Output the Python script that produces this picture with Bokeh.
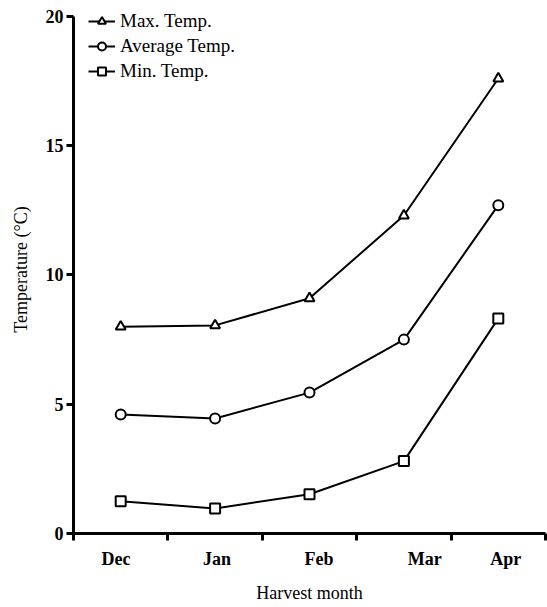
from bokeh.plotting import figure
from bokeh.models import FixedTicker, Legend, LegendItem
from bokeh.embed import file_html
from bokeh.resources import INLINE

months = ["Dec", "Jan", "Feb", "Mar", "Apr"]
max_temp = [8.0, 8.05, 9.1, 12.3, 17.6]
avg_temp = [4.6, 4.45, 5.45, 7.5, 12.7]
min_temp = [1.25, 0.97, 1.52, 2.8, 8.32]
y_ticks = [0, 5, 10, 15, 20]

xpos = [i + 0.5 for i in range(len(months))]
# where the month names sit under the axis (as in the original figure)
label_x = [0.45, 1.52, 2.6, 3.72, 4.58]
FONT = "Liberation Serif"

# a little headroom above 20 so the legend is not clipped; the axis line stops at 20
p = figure(width=547, height=607, x_range=(0, 5), y_range=(0, 20.425),
           output_backend="svg", toolbar_location=None,
           min_border_left=73, min_border_right=2, min_border_top=5, min_border_bottom=74)
p.grid.visible = False
p.outline_line_color = None

series = [(max_temp, "triangle", "Max. Temp."),
          (avg_temp, "circle", "Average Temp."),
          (min_temp, "square", "Min. Temp.")]
items = []
for vals, marker, label in series:
    l = p.line(xpos, vals, line_color="black", line_width=2)
    m = p.scatter(xpos, vals, marker=marker, size=10, fill_color="white",
                  line_color="black", line_width=2)
    items.append(LegendItem(label=label, renderers=[l, m]))

legend = Legend(items=items, location=(15, 451), border_line_alpha=0,
                background_fill_alpha=0, label_text_font=FONT,
                label_text_font_size="19px", label_text_color="black",
                glyph_width=27, glyph_height=20, label_height=20,
                spacing=3, padding=0, margin=0, label_standoff=5)
p.add_layout(legend)

# x axis
p.xaxis.ticker = FixedTicker(ticks=label_x, minor_ticks=[0, 1, 2, 3, 4, 5])
p.xaxis.major_label_overrides = {x: m for x, m in zip(label_x, months)}
p.xaxis.major_tick_out = 0
p.xaxis.major_tick_in = 0
p.xaxis.minor_tick_out = 7
p.xaxis.minor_tick_in = 0
p.xaxis.minor_tick_line_width = 3
p.xaxis.axis_line_width = 3
p.xaxis.major_label_standoff = 8
p.xaxis.axis_label = "Harvest month"
p.xaxis.axis_label_standoff = 11

# y axis
p.yaxis.bounds = (0, 20)
p.yaxis.ticker = FixedTicker(ticks=y_ticks, minor_ticks=[])
p.yaxis.major_tick_out = 7
p.yaxis.major_tick_in = 0
p.yaxis.major_tick_line_width = 3
p.yaxis.axis_line_width = 3
p.yaxis.major_label_standoff = 3
p.yaxis.axis_label = "Temperature (°C)"
p.yaxis.axis_label_standoff = 12

for ax in (p.xaxis, p.yaxis):
    ax.axis_line_color = "black"
    ax.major_tick_line_color = "black"
    ax.minor_tick_line_color = "black"
    ax.major_label_text_font = FONT
    ax.major_label_text_font_size = "18px"
    ax.major_label_text_font_style = "bold"
    ax.major_label_text_color = "black"
    ax.axis_label_text_font = FONT
    ax.axis_label_text_font_size = "18px"
    ax.axis_label_text_font_style = "normal"
    ax.axis_label_text_color = "black"

open("out.html", "w").write(file_html(p, INLINE))
